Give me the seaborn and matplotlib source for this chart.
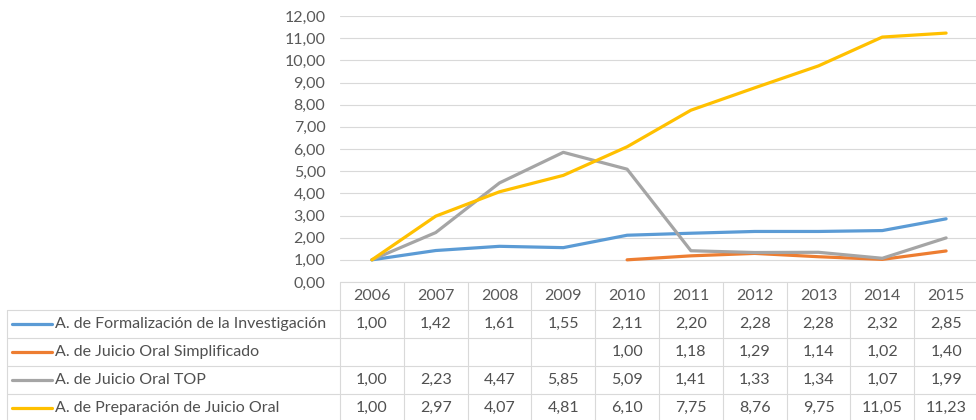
import numpy as np
import pandas as pd
import seaborn as sns
import matplotlib.pyplot as plt
from matplotlib.lines import Line2D

# Series values by year (index, base 2006 = 1,00)
years = [2006, 2007, 2008, 2009, 2010, 2011, 2012, 2013, 2014, 2015]
formalizacion = [1.00, 1.42, 1.61, 1.55, 2.11, 2.20, 2.28, 2.28, 2.32, 2.85]
simplificado = [np.nan, np.nan, np.nan, np.nan, 1.00, 1.18, 1.29, 1.14, 1.02, 1.40]
juicio_top = [1.00, 2.23, 4.47, 5.85, 5.09, 1.41, 1.33, 1.34, 1.07, 1.99]
preparacion = [1.00, 2.97, 4.07, 4.81, 6.10, 7.75, 8.76, 9.75, 11.05, 11.23]

series_names = [
    "A. de Formalización de la Investigación",
    "A. de Juicio Oral Simplificado",
    "A. de Juicio Oral TOP",
    "A. de Preparación de Juicio Oral",
]
series_values = [formalizacion, simplificado, juicio_top, preparacion]
colors = ["#5B9BD5", "#ED7D31", "#A5A5A5", "#FFC000"]
y_ticks = list(range(0, 13))

rows = []
for name, vals in zip(series_names, series_values):
    for yr, v in zip(years, vals):
        rows.append({"year": yr, "value": v, "serie": name})
df = pd.DataFrame(rows)

sns.set_theme(style="white")
plt.rcParams["font.family"] = ["Lato", "DejaVu Sans"]

W, H = 976, 420
FS = 11.5
fig = plt.figure(figsize=(W / 100, H / 100), dpi=100)
fig.patch.set_facecolor("white")

# pixel layout helpers
def fx(px):
    return px / W

def fy(py):
    return 1 - py / H

plot_left, plot_right = 340, 978
plot_top, plot_bottom = 16, 282
ax = fig.add_axes([fx(plot_left), fy(plot_bottom),
                   (plot_right - plot_left) / W, (plot_bottom - plot_top) / H])

sns.lineplot(data=df, x="year", y="value", hue="serie", hue_order=series_names,
             palette=colors, linewidth=2.3, legend=False, ax=ax)

ax.set_xlim(years[0] - 0.5, years[-1] + 0.5)
ax.set_ylim(0, 12)
ax.set_yticks(y_ticks)
ax.set_yticklabels([f"{t:.2f}".replace(".", ",") for t in y_ticks])
ax.set_xticks([])
ax.set_xlabel("")
ax.set_ylabel("")
ax.tick_params(axis="y", length=0, pad=10.5, labelsize=FS, labelcolor="#595959")
ax.yaxis.grid(True, color="#d9d9d9", linewidth=0.8)
ax.set_axisbelow(True)
for s in ax.spines.values():
    s.set_visible(False)

# data table under the chart
grid_col = "#d9d9d9"
txt_col = "#505050"
n = len(years)
col_w = (plot_right - plot_left) / n
header_top, header_bottom = 282, 310
row_edges = [310, 338, 366, 394, 422]
table_left = 7

def hline(y, x0, x1):
    fig.add_artist(Line2D([fx(x0), fx(x1)], [fy(y), fy(y)], color=grid_col, lw=0.8))

def vline(x, y0, y1):
    fig.add_artist(Line2D([fx(x), fx(x)], [fy(y0), fy(y1)], color=grid_col, lw=0.8))

hline(header_top, plot_left, plot_right)
for y in row_edges:
    hline(y, table_left, plot_right)
for i in range(n + 1):
    vline(plot_left + i * col_w, header_top, row_edges[-1])
vline(table_left, row_edges[0], row_edges[-1])

for i, yr in enumerate(years):
    cx = plot_left + (i + 0.5) * col_w
    fig.text(fx(cx), fy((header_top + header_bottom) / 2), str(yr), ha="center",
             va="center", fontsize=FS, color="#595959")

for r, (name, vals, c) in enumerate(zip(series_names, series_values, colors)):
    cy = (row_edges[r] + row_edges[r + 1]) / 2
    fig.add_artist(Line2D([fx(12), fx(52)], [fy(cy), fy(cy)], color=c, lw=2.3))
    fig.text(fx(55), fy(cy), name, ha="left", va="center", fontsize=FS, color=txt_col)
    for i, v in enumerate(vals):
        if np.isnan(v):
            continue
        cx = plot_left + (i + 0.5) * col_w
        fig.text(fx(cx), fy(cy), f"{v:.2f}".replace(".", ","), ha="center",
                 va="center", fontsize=FS, color=txt_col)

fig.savefig("out.png", dpi=100, facecolor="white")
